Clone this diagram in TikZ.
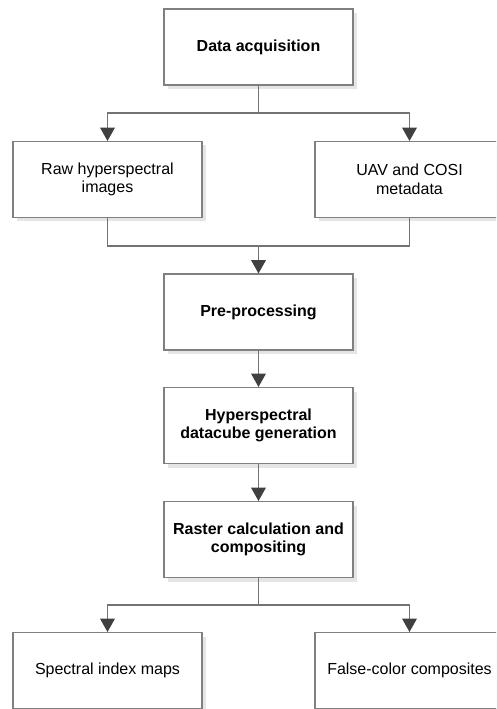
\documentclass[tikz,border=0pt]{standalone}
\usepackage{fontspec}
\setmainfont{Liberation Sans}
\usepackage{tikz}
\usetikzlibrary{arrows.meta,shadows}
\tikzstyle{arrow} = [draw=black!55, line width=0.8pt, -{Triangle[width=11pt,length=10pt,color=black!75]}]
\tikzstyle{link} = [draw=black!55, line width=0.8pt]
\tikzstyle{diagnode} = [rectangle, minimum width=141.75pt, minimum
height=57pt, align=center, draw=black!50, line width=0.8pt, fill=white,
font=\fontsize{12}{14}\selectfont, drop shadow={shadow xshift=3pt, shadow yshift=-3pt, fill=black!10, opacity=1}]
\tikzstyle{boldnode} = [diagnode, font=\fontsize{12}{14}\selectfont\bfseries]

\begin{document}
\begin{tikzpicture}[node distance=99.375pt]
      \clip (-193.875pt,35.25pt) rectangle (178.125pt,-496.5pt);
      \node (0) [boldnode] {Data acquisition};
      \node (1) [diagnode, below of=0, xshift=-113.25pt] {Raw hyperspectral\\images};
      \node (2) [diagnode, below of=0, xshift=113.25pt] {UAV and COSI\\metadata};
      \node (3) [boldnode, node distance=198.75pt, below of=0] {Pre-processing};
      \node (4) [boldnode, node distance=85.125pt, below of=3] {Hyperspectral\\datacube generation};
      \node (5) [boldnode, node distance=85.5pt, below of=4] {Raster calculation and\\compositing};
      \node (6) [diagnode, node distance=98.25pt, below of=5, xshift=-113.25pt] {Spectral index maps};
      \node (7) [diagnode, node distance=98.25pt, below of=5, xshift=113.25pt] {False-color composites};

      \coordinate [node distance=49.5pt, below of=0] (j1);
      \coordinate [node distance=149.25pt, below of=0] (j2);
      \coordinate [node distance=49.125pt, below of=5] (j3);

      \draw [link] (0) -- (j1);
      \draw [arrow] (j1) -| (1);
      \draw [arrow] (j1) -| (2);
      \draw [link] (1) |- (j2);
      \draw [link] (2) |- (j2);
      \draw [arrow] (j2) -- (3);
      \draw [arrow] (3) -- (4);
      \draw [arrow] (4) -- (5);
      \draw [link] (5) -- (j3);
      \draw [arrow] (j3) -| (6);
      \draw [arrow] (j3) -| (7);
    \end{tikzpicture}
\end{document}
